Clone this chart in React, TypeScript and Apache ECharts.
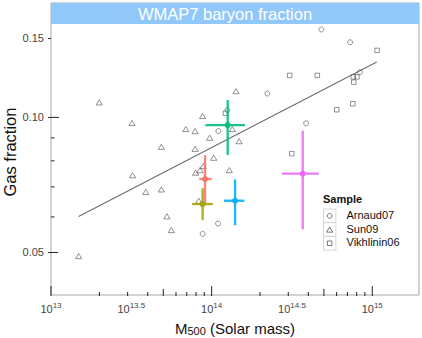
import React, { useEffect, useRef } from "react";
import * as echarts from "echarts";

// ---- data (mass as log10 of solar masses, gas fraction as plain fraction) ----
const arnaudLogM = [14.683, 14.862, 14.347, 14.588, 14.924, 14.098, 14.042, 13.944, 14.04];
const arnaudFgas = [0.157, 0.147, 0.113, 0.097, 0.1261, 0.1038, 0.0932, 0.055, 0.058];

const sunLogM = [13.30, 13.504, 13.687, 13.839, 13.897, 13.944, 13.988, 13.897, 14.013, 13.508, 14.152, 14.129, 14.171, 14.110, 13.90, 13.928, 13.948, 13.59, 13.687, 13.722, 13.749, 13.172, 13.92];
const sunFgas = [0.108, 0.0972, 0.086, 0.0942, 0.0932, 0.1007, 0.0901, 0.0851, 0.0813, 0.0743, 0.1144, 0.0942, 0.0885, 0.0763, 0.0753, 0.0763, 0.0779, 0.0682, 0.0691, 0.0602, 0.0561, 0.0491, 0.0652];

const vikhLogM = [15.03, 14.486, 14.658, 14.882, 14.905, 14.885, 14.879, 14.779, 14.499, 14.086];
const vikhFgas = [0.141, 0.124, 0.124, 0.1231, 0.1231, 0.1198, 0.1072, 0.104, 0.083, 0.1021];

const crossLogM = [13.959, 13.944, 14.1, 14.146, 14.567];
const crossLogMLo = [13.923, 13.878, 13.961, 14.077, 14.438];
const crossLogMHi = [14.0, 14.007, 14.208, 14.204, 14.667];
const crossFgas = [0.0729, 0.0641, 0.0961, 0.0652, 0.0749];
const crossFgasLo = [0.0641, 0.059, 0.0824, 0.0575, 0.0563];
const crossFgasHi = [0.0824, 0.0695, 0.1093, 0.0727, 0.0934];
const crossColors = ["#F8766D", "#A3A500", "#00BF7D", "#00B0F6", "#E76BF3"];

const fitLogM = [13.172, 15.028];
const fitFgas = [0.0601, 0.1328];

const wmapLow = 0.1614;
const wmapLabel = "WMAP7 baryon fraction";

const xLabelValues = [13, 13.5, 14, 14.5, 15];
const xDecades = [13, 14, 15];
const xMultipliers = [2, 3, 4, 5, 6, 7, 8, 9];
const yLabelValues = [0.05, 0.1, 0.15];
const yInnerTickValues = [0.05, 0.06, 0.07, 0.08, 0.09, 0.1];

const sampleNames = ["Arnaud07", "Sun09", "Vikhlinin06"];
const yTitle = "Gas fraction";

const X_MIN = 13;
const X_MAX = 15.291;
const Y_MIN = Math.log10(0.0402);
const Y_MAX = Math.log10(0.1798);

const FONT = "'Liberation Sans', Arial, Helvetica, sans-serif";
const lg = (v: number) => Math.log10(v);

export default function App() {
  const ref = useRef<HTMLDivElement>(null);
  useEffect(() => {
    if (!ref.current) return;
    const chart = echarts.init(ref.current, null, { renderer: "svg" });

    const xTicks: number[][] = [];
    xDecades.forEach((d) => {
      xTicks.push([d, 9]);
      xMultipliers.forEach((m) => {
        const v = d + Math.log10(m);
        if (v <= X_MAX) xTicks.push([v, m === 5 ? 6 : 3]);
      });
    });
    const yTicks = yInnerTickValues.map((v) => [lg(v), v === 0.1 ? 8 : v === 0.05 ? 7 : 3.5]);

    const pts = (ms: number[], fs: number[]) => ms.map((m, i) => [m, lg(fs[i])]);
    const crossData = crossLogM.map((m, i) => [m, lg(crossFgas[i]), crossLogMLo[i], crossLogMHi[i], lg(crossFgasLo[i]), lg(crossFgasHi[i]), i]);

    const symStyle = { color: "rgba(0,0,0,0)", borderColor: "#555", borderWidth: 0.8 };

    chart.setOption({
      animation: false,
      textStyle: { fontFamily: FONT },
      grid: { left: 51, right: 3, top: 3, bottom: 43, show: true, borderColor: "#a6a6a6", borderWidth: 1, backgroundColor: "#fff", containLabel: false, outerBoundsMode: "none" },
      xAxis: {
        type: "value",
        min: X_MIN,
        max: X_MAX,
        axisLine: { show: false },
        splitLine: { show: false },
        axisTick: { show: false },
        axisLabel: {
          customValues: xLabelValues,
          margin: 6,
          color: "#444",
          formatter: (v: number) => `{b|10}{s|${v}}`,
          rich: {
            b: { fontSize: 11, color: "#444", fontFamily: FONT },
            s: { fontSize: 8, color: "#444", fontFamily: FONT, padding: [0, 0, 7, 0] },
          },
        },
        name: "{a|M}{s|500}{a| (Solar mass)}",
        nameLocation: "middle",
        nameGap: 25,
        nameTextStyle: {
          rich: {
            a: { fontSize: 15, color: "#111", fontFamily: FONT },
            s: { fontSize: 11, color: "#111", fontFamily: FONT, padding: [5, 0, 0, 0] },
          },
        },
      },
      yAxis: {
        type: "value",
        min: Y_MIN,
        max: Y_MAX,
        axisLine: { show: false },
        splitLine: { show: false },
        axisTick: { show: true, customValues: yLabelValues.map(lg), length: 3, lineStyle: { color: "#333" } },
        axisLabel: {
          customValues: yLabelValues.map(lg),
          margin: 7,
          fontSize: 11,
          color: "#444",
          formatter: (v: number) => Math.pow(10, v).toFixed(2),
        },
      },
      series: [
        {
          type: "line",
          data: fitLogM.map((m, i) => [m, lg(fitFgas[i])]),
          symbol: "none",
          lineStyle: { color: "#6e6e6e", width: 1.1 },
          z: 2,
          markArea: {
            silent: true,
            itemStyle: { color: "#91C8FA" },
            label: { show: true, position: "inside", offset: [-10, 0], color: "#fff", fontSize: 16.5, fontFamily: FONT },
            data: [[{ yAxis: lg(wmapLow), name: wmapLabel }, { yAxis: Y_MAX }]],
          },
        },
        { name: sampleNames[0], type: "scatter", data: pts(arnaudLogM, arnaudFgas), symbol: "circle", symbolSize: 5, itemStyle: symStyle, z: 3 },
        { name: sampleNames[1], type: "scatter", data: pts(sunLogM, sunFgas), symbol: "triangle", symbolSize: [6.2, 5.2], itemStyle: symStyle, z: 3 },
        { name: sampleNames[2], type: "scatter", data: pts(vikhLogM, vikhFgas), symbol: "rect", symbolSize: 4.5, itemStyle: symStyle, z: 3 },
        {
          type: "custom",
          data: crossData,
          z: 4,
          renderItem: (params: any, api: any) => {
            const c = api.coord([api.value(0), api.value(1)]);
            const xl = api.coord([api.value(2), api.value(1)]);
            const xh = api.coord([api.value(3), api.value(1)]);
            const yl = api.coord([api.value(0), api.value(4)]);
            const yh = api.coord([api.value(0), api.value(5)]);
            const col = crossColors[api.value(6)];
            const st = { stroke: col, lineWidth: 2.3, opacity: 0.9 };
            return {
              type: "group",
              children: [
                { type: "line", shape: { x1: xl[0], y1: xl[1], x2: xh[0], y2: xh[1] }, style: st },
                { type: "line", shape: { x1: yl[0], y1: yl[1], x2: yh[0], y2: yh[1] }, style: st },
                { type: "circle", shape: { cx: c[0], cy: c[1], r: 3 }, style: { fill: col } },
              ],
            };
          },
        },
        {
          type: "custom",
          data: xTicks,
          z: 5,
          silent: true,
          renderItem: (params: any, api: any) => {
            const p = api.coord([api.value(0), Y_MIN]);
            return { type: "line", shape: { x1: p[0], y1: p[1] + 1, x2: p[0], y2: p[1] - api.value(1) }, style: { stroke: "#222", lineWidth: 1 } };
          },
        },
        {
          type: "custom",
          data: yTicks,
          z: 5,
          silent: true,
          renderItem: (params: any, api: any) => {
            const p = api.coord([X_MIN, api.value(0)]);
            return { type: "line", shape: { x1: p[0], y1: p[1], x2: p[0] + api.value(1), y2: p[1] }, style: { stroke: "#222", lineWidth: 1 } };
          },
        },
      ],
      graphic: [
        { type: "text", x: 10, y: 152, rotation: Math.PI / 2, style: { text: yTitle, font: `16.5px ${FONT}`, fill: "#111", align: "center", verticalAlign: "middle" } },
        { type: "text", left: 323, top: 193, style: { text: "Sample", font: `bold 11px ${FONT}`, fill: "#111" } },
        ...sampleNames.flatMap((n, i) => {
          const top = 209 + i * 13.7;
          const cy = top + 6.85;
          const cx = 329.7;
          const sym =
            i === 0
              ? { type: "circle", shape: { cx, cy, r: 2.4 }, style: { fill: "none", stroke: "#555", lineWidth: 0.8 } }
              : i === 1
              ? { type: "polygon", shape: { points: [[cx, cy - 2.6], [cx + 3.1, cy + 2.6], [cx - 3.1, cy + 2.6]] }, style: { fill: "none", stroke: "#555", lineWidth: 0.8 } }
              : { type: "rect", shape: { x: cx - 2.25, y: cy - 2.25, width: 4.5, height: 4.5 }, style: { fill: "none", stroke: "#555", lineWidth: 0.8 } };
          return [
            { type: "rect", shape: { x: 323.5, y: top, width: 12.4, height: 13.7 }, style: { fill: "#fff", stroke: "#d4d4d4", lineWidth: 1 } },
            sym,
            { type: "text", left: 346.5, top: cy - 6.5, style: { text: n, font: `11px ${FONT}`, fill: "#111" } },
          ];
        }),
      ],
    });
    return () => chart.dispose();
  }, []);
  return <div ref={ref} style={{ width: 422, height: 338, position: "absolute", left: 0, top: 0 }} />;
}
